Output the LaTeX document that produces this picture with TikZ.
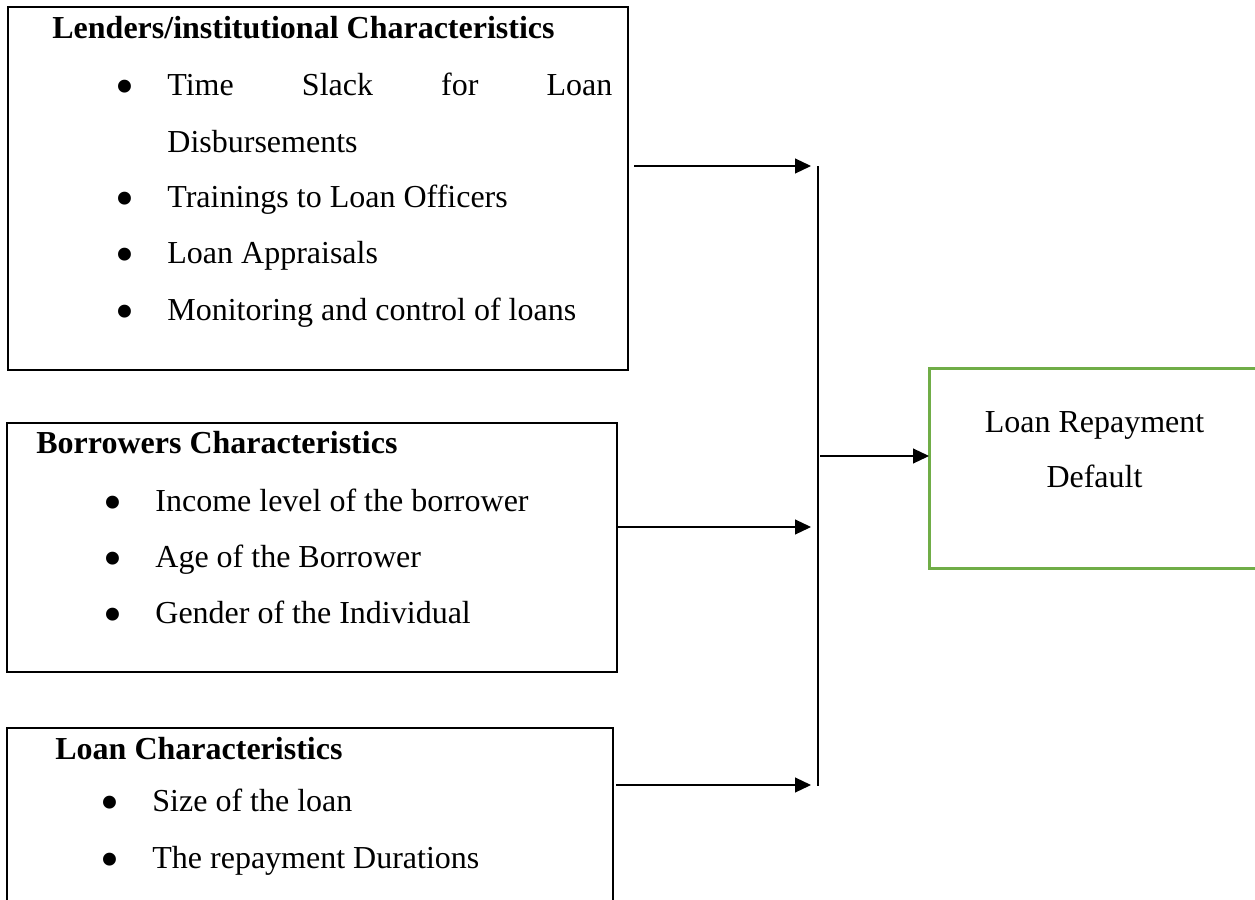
\documentclass[tikz,border=0pt]{standalone}
\usepackage{fontspec}
\setmainfont{Liberation Serif}
\usetikzlibrary{arrows.meta}
\definecolor{boxgreen}{RGB}{112,173,71}
\begin{document}
\begin{tikzpicture}[x=0.5pt,y=-0.5pt,
  font=\fontsize{16}{19}\selectfont,
  box/.style={draw, line width=1.3pt, anchor=north west, inner sep=0pt, outer sep=0pt},
  gbox/.style={box, draw=boxgreen, line width=1.5pt},
  txt/.style={anchor=base west, inner sep=0pt},
  ttl/.style={txt, font=\fontsize{16}{19}\selectfont\bfseries},
  bul/.style={anchor=center, inner sep=0pt, font=\fontsize{27}{30}\selectfont},
  ctr/.style={anchor=base, inner sep=0pt},
  arr/.style={-{Triangle[length=8pt,width=7.5pt]}, line width=0.6pt},
  bus/.style={line width=0.6pt}]
\useasboundingbox (0,0) rectangle (1255,900);

% boxes
\node[box, minimum width=310pt, minimum height=181.5pt] (b1) at (8,7) {};
\node[box, minimum width=305pt, minimum height=124.5pt] (b2) at (7,423) {};
\node[box, minimum width=303pt, minimum height=95pt] (b3) at (7,728) {};
\node[gbox, minimum width=171pt, minimum height=100pt] (g) at (929,368) {};

% box 1 text
\node[ttl] (t1) at (52,38) {Lenders/institutional Characteristics};
\node[bul] (p11) at (125,92) {•};
\node[txt] (l11) at (167,95) {\makebox[222.5pt][s]{Time Slack for Loan}};
\node[txt] (l11b) at (167,152) {Disbursements};
\node[bul] (p12) at (125,204) {•};
\node[txt] (l12) at (167,207) {Trainings to Loan Officers};
\node[bul] (p13) at (125,260) {•};
\node[txt] (l13) at (167,263) {Loan Appraisals};
\node[bul] (p14) at (125,317) {•};
\node[txt] (l14) at (167,320) {Monitoring and control of loans};

% box 2 text
\node[ttl] (t2) at (36,453) {Borrowers Characteristics};
\node[bul] (p21) at (113,508) {•};
\node[txt] (l21) at (155,511) {Income level of the borrower};
\node[bul] (p22) at (113,564) {•};
\node[txt] (l22) at (155,567) {Age of the Borrower};
\node[bul] (p23) at (113,620) {•};
\node[txt] (l23) at (155,623) {Gender of the Individual};

% box 3 text
\node[ttl] (t3) at (55,759) {Loan Characteristics};
\node[bul] (p31) at (110,808) {•};
\node[txt] (l31) at (152,811) {Size of the loan};
\node[bul] (p32) at (110,865) {•};
\node[txt] (l32) at (152,868) {The repayment Durations};

% outcome text
\node[ctr] (o1) at (1094.5,432) {Loan Repayment};
\node[ctr] (o2) at (1094.5,487) {Default};

% connectors
\coordinate (bustop) at (818,166);
\coordinate (busbot) at (818,786);
\coordinate (a1s) at (634,166);
\coordinate (a1e) at (811,166);
\coordinate (a2e) at (811,527);
\coordinate (a3s) at (616,785);
\coordinate (a3e) at (811,785);
\coordinate (a4s) at (820,456);

\draw[bus] (bustop) -- (busbot);
\draw[arr] (a1s) -- (a1e);
\draw[arr] (b2.east |- a2e) -- (a2e);
\draw[arr] (a3s) -- (a3e);
\draw[arr] (a4s) -- (g.west |- a4s);
\end{tikzpicture}
\end{document}
